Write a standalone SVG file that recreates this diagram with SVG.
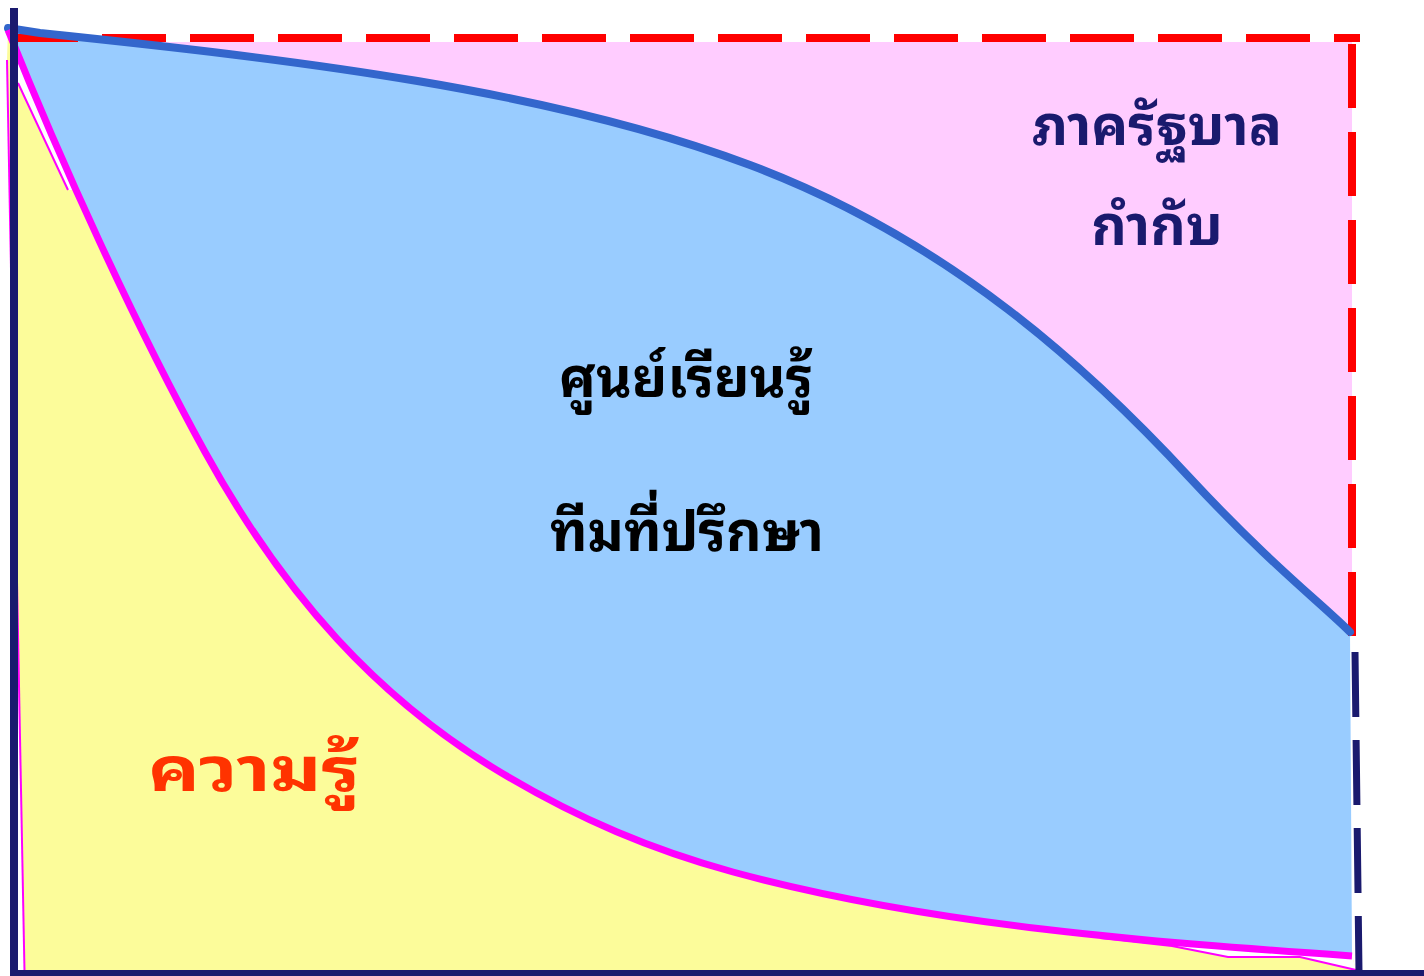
<svg xmlns="http://www.w3.org/2000/svg" width="1424" height="976" viewBox="0 0 1424 976">
<style>
.t{font-family:"Noto Sans Thai Looped","Noto Serif Thai","Liberation Serif",serif;font-weight:bold;text-anchor:middle;}
.thin{fill:none;stroke:#ff00ff;stroke-width:2;}
</style>
<defs>
<path id="bluecurve" d="M8,28 L40,33 C300,60 550,90 750,165 C950,240 1090,370 1190,478 C1270,564 1322,604 1350,632"/>
</defs>
<rect width="1424" height="976" fill="#ffffff"/>
<g id="regions">
<path id="pink" d="M40,33 C300,60 550,90 750,165 C950,240 1090,370 1190,478 C1270,564 1322,604 1350,632 L1352,632 L1352,42 L14,42 Z" fill="#ffccff"/>
<path id="blue" d="M8,28 L40,33 C300,60 550,90 750,165 C950,240 1090,370 1190,478 C1270,564 1322,604 1350,632 L1352,958 C1152,942 933,926 733,872 C653,850 580,820 500,772 C380,700 285,597 205,452 C135,325 60,160 8,30 Z" fill="#99ccff"/>
<path id="yellow" d="M8,30 C60,160 135,325 205,452 C285,597 380,700 500,772 C580,820 653,850 733,872 C933,926 1152,942 1352,956 L1356,970 L24.5,972 L7,60 Z" fill="#fcfc9a"/>
<path id="gap-br" d="M1105,936 L1168,942 L1230,947 L1291,952 L1352,956 L1356,970 L1300,957 L1228,957 L1172,946 L1105,939 Z" fill="#ffffff"/>
<path id="gap-tl" d="M14,45 L58,150 L76,190 L68,190 L18,83 Z" fill="#ffffff"/>
</g>
<g id="lines" fill="none">
<line x1="14" y1="38" x2="1360" y2="38" stroke="#ff0000" stroke-width="8" stroke-dasharray="64 24"/>
<line x1="1352" y1="44" x2="1352" y2="636" stroke="#ff0000" stroke-width="8" stroke-dasharray="64 24"/>
<polyline class="thin" points="7,60 24.5,972"/>
<polyline class="thin" points="18,83 68,190"/>
<polyline class="thin" points="1100,938 1172,946 1228,957 1300,957 1356,970"/>
<use href="#bluecurve" stroke="#3366cc" stroke-width="8" stroke-linecap="round"/>
<path d="M8,30 C60,160 135,325 205,452 C285,597 380,700 500,772 C580,820 653,850 733,872 C933,926 1152,942 1352,956" stroke="#ff00ff" stroke-width="7"/>
<line x1="14" y1="8" x2="14" y2="976" stroke="#1a1a6e" stroke-width="8"/>
<line x1="10" y1="973" x2="1424" y2="973" stroke="#1a1a6e" stroke-width="6"/>
<line x1="1355" y1="652" x2="1359" y2="972" stroke="#1a1a6e" stroke-width="7" stroke-dasharray="65 23"/>
</g>
<g id="label-gov"><text class="t" x="1157" y="145" font-size="55" fill="#1a1a6e">ภาครัฐบาล</text><text class="t" x="1157" y="245" font-size="55" fill="#1a1a6e">กำกับ</text></g>
<g id="label-center"><text class="t" x="686" y="397" font-size="55" fill="#000000">ศูนย์เรียนรู้</text><text class="t" x="687" y="551" font-size="55" fill="#000000">ทีมที่ปรึกษา</text></g>
<g id="label-knowledge"><text class="t" x="254" y="791" font-size="60" fill="#ff3300" textLength="212" lengthAdjust="spacingAndGlyphs">ความรู้</text></g>
</svg>
